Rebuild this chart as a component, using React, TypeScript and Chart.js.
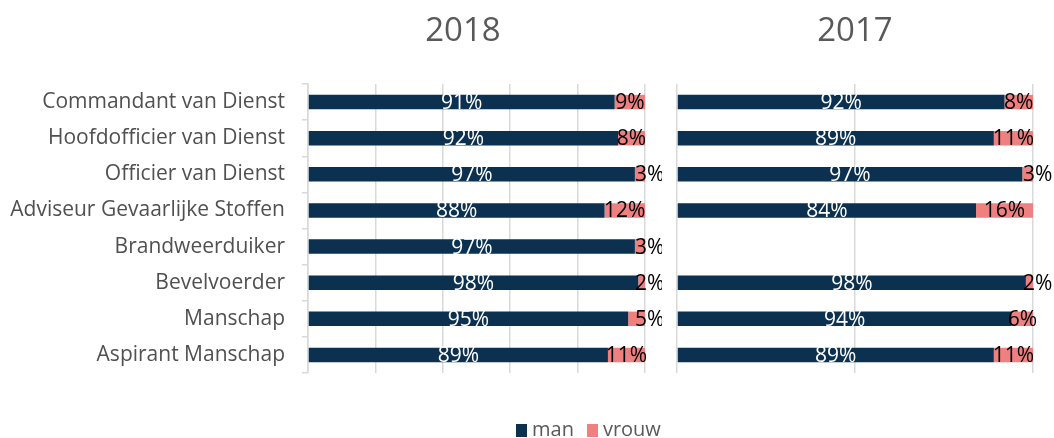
import React, { useEffect, useRef } from "react";
import { Chart, registerables } from "chart.js";

Chart.register(...registerables);

const categories = [
  "Commandant van Dienst",
  "Hoofdofficier van Dienst",
  "Officier van Dienst",
  "Adviseur Gevaarlijke Stoffen",
  "Brandweerduiker",
  "Bevelvoerder",
  "Manschap",
  "Aspirant Manschap",
];
const man2018 = [91, 92, 97, 88, 97, 98, 95, 89];
const vrouw2018 = [9, 8, 3, 12, 3, 2, 5, 11];
const man2017 = [92, 89, 97, 84, null, 98, 94, 89];
const vrouw2017 = [8, 11, 3, 16, null, 2, 6, 11];
const seriesNames = ["man", "vrouw"];

const MAN_COLOR = "#0B3050";
const VROUW_COLOR = "#EE8080";
const FONT = "'Open Sans', sans-serif";

const labelPlugin = {
  id: "segLabels",
  afterDatasetsDraw(chart: any) {
    const ctx = chart.ctx;
    ctx.save();
    ctx.font = `21px ${FONT}`;
    ctx.textBaseline = "middle";
    chart.data.datasets.forEach((ds: any, di: number) => {
      const meta = chart.getDatasetMeta(di);
      meta.data.forEach((el: any, i: number) => {
        const v = ds.data[i];
        if (v === null || v === undefined) return;
        const p = el.getProps(["x", "y", "base"], true);
        const w = Math.abs(p.x - p.base);
        ctx.fillStyle = di === 0 ? "#ffffff" : "#000000";
        if (di === 1 && w < 20) {
          ctx.textAlign = "left";
          ctx.fillText(`${v}%`, p.x - 10, p.y + 1);
        } else {
          ctx.textAlign = "center";
          ctx.fillText(`${v}%`, (p.x + p.base) / 2, p.y + 1);
        }
      });
    });
    ctx.restore();
  },
};

function makeConfig(man: (number | null)[], vrouw: (number | null)[], showY: boolean, padLeft: number, padRight: number, step: number) {
  return {
    type: "bar" as const,
    data: {
      labels: categories,
      datasets: [
        {
          label: seriesNames[0],
          data: man,
          backgroundColor: MAN_COLOR,
          borderWidth: 0,
          categoryPercentage: 1,
          barPercentage: 0.4,
        },
        {
          label: seriesNames[1],
          data: vrouw,
          backgroundColor: VROUW_COLOR,
          borderWidth: 0,
          categoryPercentage: 1,
          barPercentage: 0.4,
        },
      ],
    },
    options: {
      indexAxis: "y" as const,
      animation: false as const,
      responsive: false,
      maintainAspectRatio: false,
      layout: { padding: { left: padLeft, right: padRight, top: 84, bottom: 65 } },
      plugins: {
        legend: { display: false },
        title: { display: false },
        tooltip: { enabled: false },
      },
      scales: {
        x: {
          stacked: true,
          min: 0,
          max: 100,
          ticks: { display: false, stepSize: step },
          grid: { color: "#D9D9D9", lineWidth: 1.5, drawTicks: false },
          border: { display: false },
          afterFit(scale: any) {
            scale.height = 0;
          },
        },
        y: {
          stacked: true,
          display: showY ? true : false,
          ticks: {
            color: "#505050",
            font: { family: FONT, size: 21 },
            padding: 17,
            autoSkip: false,
          },
          grid: {
            drawOnChartArea: false,
            offset: true,
            color: "#D9D9D9",
            lineWidth: 1.5,
            tickLength: 6,
          },
          border: { display: true, color: "#D9D9D9", width: 1.5 },
          afterFit(scale: any) {
            if (showY) scale.width = 308 - padLeft;
          },
        },
      },
    },
    plugins: [labelPlugin],
  };
}

function Panel({ man, vrouw, showY, left, width, padLeft, padRight, step }: any) {
  const ref = useRef<HTMLCanvasElement>(null);
  useEffect(() => {
    if (!ref.current) return;
    const chart = new Chart(ref.current, makeConfig(man, vrouw, showY, padLeft, padRight, step) as any);
    return () => chart.destroy();
  }, []);
  return (
    <canvas
      ref={ref}
      width={width}
      height={438}
      style={{ position: "absolute", left, top: 0, width, height: 438 }}
    />
  );
}

export default function App() {
  const titleStyle: React.CSSProperties = {
    position: "absolute",
    top: 9,
    width: 200,
    textAlign: "center",
    fontFamily: FONT,
    fontSize: 33,
    lineHeight: "40px",
    color: "#595959",
  };
  const legendText: React.CSSProperties = {
    fontFamily: FONT,
    fontSize: 20,
    lineHeight: "20px",
    color: "#595959",
  };
  return (
    <div style={{ position: "fixed", left: 0, top: 0, width: 1054, height: 438, background: "#fff", overflow: "hidden" }}>
      <Panel man={man2018} vrouw={vrouw2018} showY={true} left={0} width={662} padLeft={0} padRight={17} step={20} />
      <Panel man={man2017} vrouw={vrouw2017} showY={false} left={662} width={392} padLeft={15} padRight={21} step={50} />
      <div style={{ ...titleStyle, left: 463 - 100 }}>2018</div>
      <div style={{ ...titleStyle, left: 855 - 100 }}>2017</div>
      <div style={{ position: "absolute", left: 516, top: 419, display: "flex", alignItems: "flex-start" }}>
        <div style={{ width: 11, height: 13, background: MAN_COLOR, marginTop: 5, marginRight: 5 }} />
        <div style={legendText}>man</div>
        <div style={{ width: 11, height: 13, background: VROUW_COLOR, marginTop: 5, marginLeft: 13, marginRight: 5 }} />
        <div style={legendText}>vrouw</div>
      </div>
    </div>
  );
}
